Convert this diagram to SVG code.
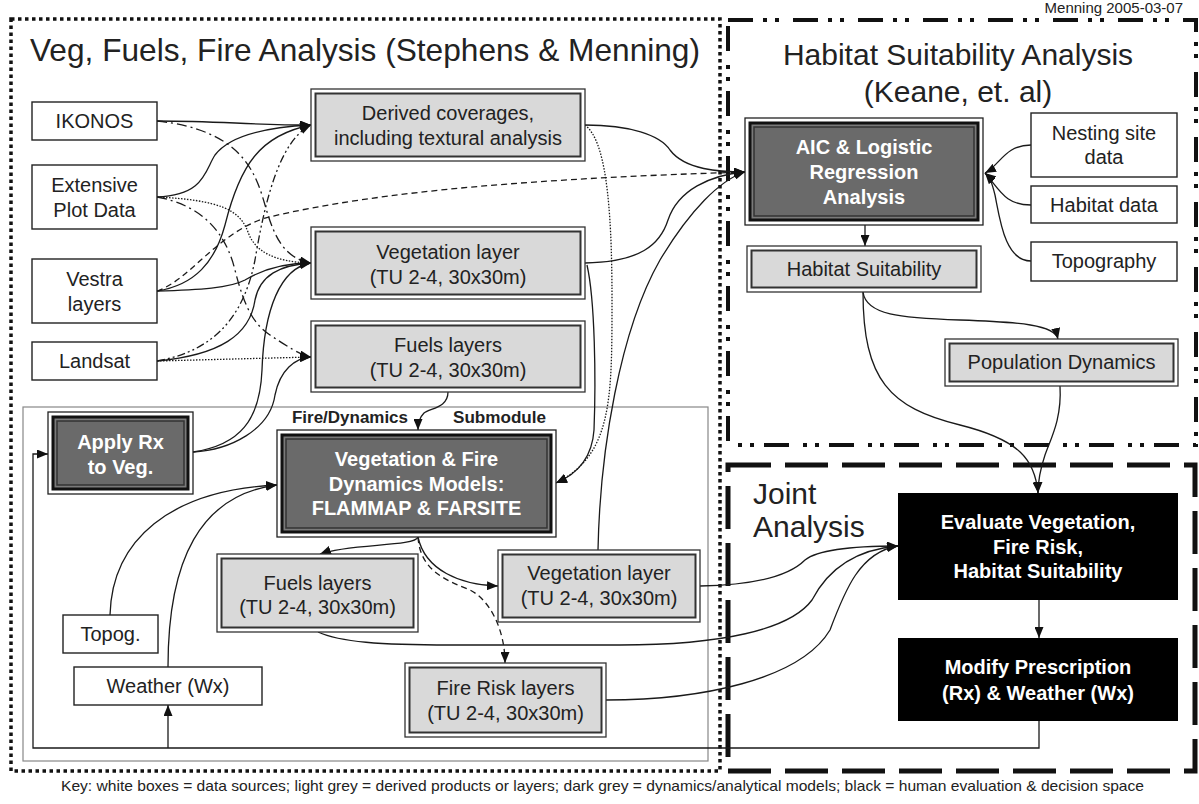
<svg xmlns="http://www.w3.org/2000/svg" width="1199" height="804" viewBox="0 0 1199 804">
<style>
text{font-family:"Liberation Sans",Arial,sans-serif;fill:#222}
.t20{font-size:20px}
.b20{font-size:20px;font-weight:bold;fill:#fff}
.ctr{text-anchor:middle}
.wbox{fill:#fff;stroke:#222;stroke-width:1.4}
.gout{fill:#fff;stroke:#333;stroke-width:1.3}
.gin{fill:#d9d9d9;stroke:#333;stroke-width:2}
.dout{fill:#fff;stroke:#222;stroke-width:1.3}
.dmid{fill:#7a7a7a;stroke:#111;stroke-width:3}
.din{fill:#6a6a6a;stroke:#333;stroke-width:1.5}
.blk{fill:#000}
.c{fill:none;stroke:#1a1a1a;stroke-width:1.3}
.ca{marker-end:url(#ah)}
.dash{stroke-dasharray:6 4}
.dot{stroke-dasharray:1.5 1.5}
.dd{stroke-dasharray:10 4 2 4}
.ddd{stroke-dasharray:8 3 2 3 2 3}
</style>
<defs>
<marker id="ah" markerUnits="userSpaceOnUse" markerWidth="11" markerHeight="9" refX="11" refY="4.5" orient="auto">
<path d="M0,0 L11,4.5 L0,9 z" fill="#111"/>
</marker>
</defs>
<rect width="1199" height="804" fill="#fff"/>

<g id="containers">
<rect x="23" y="407" width="685" height="354" fill="none" stroke="#888" stroke-width="1.2"/>
<rect x="11" y="19" width="709" height="752" fill="none" stroke="#111" stroke-width="3.5" stroke-dasharray="3.5 3.5"/>
<rect x="728" y="20" width="468" height="425" fill="none" stroke="#111" stroke-width="4" stroke-dasharray="25 10 4 8 4 14"/>
<rect x="728" y="465" width="467" height="306" fill="none" stroke="#111" stroke-width="5" stroke-dasharray="43 14"/>
</g>

<g id="titles">
<text x="30" y="61" font-size="31.5" textLength="670" lengthAdjust="spacingAndGlyphs">Veg, Fuels, Fire Analysis (Stephens &amp; Menning)</text>
<text x="958" y="65" font-size="30" class="ctr">Habitat Suitability Analysis</text>
<text x="958" y="102" font-size="30" class="ctr">(Keane, et. al)</text>
<text x="753" y="504" font-size="30">Joint</text>
<text x="753" y="537" font-size="30">Analysis</text>
<text x="1183" y="13" font-size="15" text-anchor="end">Menning 2005-03-07</text>
<text x="292" y="423" font-size="16" font-weight="bold" fill="#000" textLength="116" lengthAdjust="spacingAndGlyphs">Fire/Dynamics</text>
<text x="453" y="423" font-size="16" font-weight="bold" fill="#000" textLength="93" lengthAdjust="spacingAndGlyphs">Submodule</text>
<text x="61" y="791" font-size="14.5" textLength="1083" lengthAdjust="spacingAndGlyphs">Key: white boxes = data sources; light grey = derived products or layers; dark grey = dynamics/analytical models; black = human evaluation &amp; decision space</text>
</g>

<g id="connectors">
<path class="c ca" d="M157,121 C220,121 250,125 311,125"/>
<path class="c ca dd" d="M157,121 C240,130 255,170 265,205 C275,240 285,258 311,263"/>
<path class="c ca" d="M157,197 C205,195 205,170 215,155 C230,135 270,127 311,125"/>
<path class="c ca dot" d="M157,197 C220,200 240,210 248,232 C255,252 275,262 311,263"/>
<path class="c ca dd" d="M157,197 C200,205 225,230 235,270 C245,310 255,325 270,335 C285,345 300,355 311,357"/>
<path class="c ca" d="M157,291 C195,285 215,262 225,225 C240,165 260,135 311,125"/>
<path class="c ca" d="M157,291 C200,290 230,288 245,280 C265,268 285,263 311,263"/>
<path class="c ca dash" d="M157,291 C190,280 215,235 265,218 C380,190 550,178 745,172"/>
<path class="c ca" d="M157,361 C220,355 250,335 255,300 C260,275 280,265 311,263"/>
<path class="c ca dot" d="M157,361 L311,357"/>
<path class="c ca ddd" d="M157,361 C220,350 245,310 255,260 C265,200 280,140 311,125"/>
<path class="c ca" d="M193,452 C240,445 260,420 262,370 C264,310 280,268 311,263"/>
<path class="c ca" d="M193,452 C230,450 270,430 275,395 C280,370 295,358 311,357"/>
<path class="c ca" d="M585,125 C630,125 660,135 670,150 C685,170 720,172 745,172"/>
<path class="c ca" d="M585,263 C640,262 660,245 668,220 C678,190 710,175 745,172"/>
<path class="c ca" d="M598,550 C600,450 620,330 660,260 C690,210 720,180 745,172"/>
<path class="c ca dot" d="M585,125 C605,140 612,200 612,300 C612,400 612,455 556,483"/>
<path class="c ca" d="M587,265 C595,300 596,380 594,430 C592,460 575,475 556,483"/>
<path class="c ca" d="M448,392 C448,408 430,408 424,413 C419,418 418,423 418,430"/>
<path class="c ca" d="M418,537 C415,547 350,543 320,554"/>
<path class="c ca" d="M418,537 C425,570 460,585 498,586"/>
<path class="c ca dash" d="M418,537 C420,570 445,580 470,590 C490,600 505,630 505,663"/>
<path class="c ca" d="M700,586 C760,585 790,575 805,560 C820,548 860,546 898,546"/>
<path class="c ca" d="M318,632 C340,642 380,645 450,645 L620,645 C720,645 790,630 812,600 C825,575 850,550 898,546"/>
<path class="c ca" d="M606,700 C700,700 800,680 830,630 C845,590 860,552 898,546"/>
<path class="c ca" d="M110,615 C112,540 170,490 277,485"/>
<path class="c ca" d="M168,667 C168,560 200,495 277,485"/>
<path class="c ca" d="M863,292 C866,315 900,318 960,320 C1020,322 1055,325 1058,339"/>
<path class="c ca" d="M863,292 C863,380 890,408 960,425 C1020,440 1035,460 1038,493"/>
<path class="c ca" d="M1060,386 C1062,420 1050,440 1045,455 C1040,470 1038,480 1038,493"/>
<path class="c ca" d="M1031,145 C1005,145 1000,165 985,173"/>
<path class="c ca" d="M1031,205 C1005,205 1000,190 985,173"/>
<path class="c ca" d="M1031,261 C1005,261 1000,220 995,195 C992,183 990,177 985,173"/>
<path class="c ca" d="M865,225 L865,246"/>
<path class="c ca" d="M1039,600 L1039,638"/>
<path class="c ca" d="M1039,721 L1039,748 L33,748 L33,454 L48,454"/>
<path class="c ca" d="M168,748 L168,705"/>
</g>

<g id="ikonos"><rect class="wbox" x="32" y="102" width="125" height="38"/><text class="t20 ctr" x="94.5" y="128">IKONOS</text></g>
<g id="extensive"><rect class="wbox" x="32" y="165" width="125" height="64"/><text class="t20 ctr" x="94.5" y="192">Extensive</text><text class="t20 ctr" x="94.5" y="217">Plot Data</text></g>
<g id="vestra"><rect class="wbox" x="32" y="259" width="125" height="64"/><text class="t20 ctr" x="94.5" y="286">Vestra</text><text class="t20 ctr" x="94.5" y="311">layers</text></g>
<g id="landsat"><rect class="wbox" x="32" y="342" width="125" height="38"/><text class="t20 ctr" x="94.5" y="368">Landsat</text></g>
<g id="nesting"><rect class="wbox" x="1031" y="113" width="146" height="64"/><text class="t20 ctr" x="1104" y="140">Nesting site</text><text class="t20 ctr" x="1104" y="164">data</text></g>
<g id="habitatdata"><rect class="wbox" x="1031" y="186" width="146" height="37"/><text class="t20 ctr" x="1104" y="212">Habitat data</text></g>
<g id="topography"><rect class="wbox" x="1031" y="242" width="146" height="39"/><text class="t20 ctr" x="1104" y="268">Topography</text></g>
<g id="topog"><rect class="wbox" x="63" y="615" width="95" height="38"/><text class="t20 ctr" x="110.5" y="641">Topog.</text></g>
<g id="weather"><rect class="wbox" x="74" y="667" width="188" height="38"/><text class="t20 ctr" x="168" y="693">Weather (Wx)</text></g>

<g id="derived"><rect class="gout" x="311" y="89" width="274" height="72"/><rect class="gin" x="315.5" y="93.5" width="265" height="63"/><text class="t20 ctr" x="448" y="120">Derived coverages,</text><text class="t20 ctr" x="448" y="145">including textural analysis</text></g>
<g id="veglayer"><rect class="gout" x="311" y="227" width="274" height="72"/><rect class="gin" x="315.5" y="231.5" width="265" height="63"/><text class="t20 ctr" x="448" y="259">Vegetation layer</text><text class="t20 ctr" x="448" y="284">(TU 2-4, 30x30m)</text></g>
<g id="fuelslayers"><rect class="gout" x="311" y="321" width="274" height="71"/><rect class="gin" x="315.5" y="325.5" width="265" height="62"/><text class="t20 ctr" x="448" y="352">Fuels layers</text><text class="t20 ctr" x="448" y="377">(TU 2-4, 30x30m)</text></g>
<g id="habsuit"><rect class="gout" x="747" y="246" width="234" height="46"/><rect class="gin" x="751.5" y="250.5" width="225" height="37"/><text class="t20 ctr" x="864" y="276">Habitat Suitability</text></g>
<g id="popdyn"><rect class="gout" x="945" y="339" width="233" height="47"/><rect class="gin" x="949.5" y="343.5" width="224" height="38"/><text class="t20 ctr" x="1061.5" y="369">Population Dynamics</text></g>
<g id="fuelslower"><rect class="gout" x="217" y="554" width="201" height="78"/><rect class="gin" x="221.5" y="558.5" width="192" height="69"/><text class="t20 ctr" x="317.5" y="590">Fuels layers</text><text class="t20 ctr" x="317.5" y="614">(TU 2-4, 30x30m)</text></g>
<g id="veglower"><rect class="gout" x="498" y="550" width="202" height="72"/><rect class="gin" x="502.5" y="554.5" width="193" height="63"/><text class="t20 ctr" x="599" y="580">Vegetation layer</text><text class="t20 ctr" x="599" y="605">(TU 2-4, 30x30m)</text></g>
<g id="firerisk"><rect class="gout" x="405" y="663" width="201" height="74"/><rect class="gin" x="409.5" y="667.5" width="192" height="65"/><text class="t20 ctr" x="505.5" y="695">Fire Risk layers</text><text class="t20 ctr" x="505.5" y="720">(TU 2-4, 30x30m)</text></g>

<g id="applyrx"><rect class="dout" x="48" y="412" width="145" height="82"/><rect class="dmid" x="53" y="417" width="135" height="72"/><rect class="din" x="57" y="421" width="127" height="64"/><text class="b20 ctr" x="120.5" y="449">Apply Rx</text><text class="b20 ctr" x="120.5" y="474">to Veg.</text></g>
<g id="models"><rect class="dout" x="277" y="430" width="279" height="107"/><rect class="dmid" x="282" y="435" width="269" height="97"/><rect class="din" x="286" y="439" width="261" height="89"/><text class="b20 ctr" x="416.5" y="466">Vegetation &amp; Fire</text><text class="b20 ctr" x="416.5" y="491">Dynamics Models:</text><text class="b20 ctr" x="416.5" y="515">FLAMMAP &amp; FARSITE</text></g>
<g id="aic"><rect class="dout" x="745" y="118" width="238" height="107"/><rect class="dmid" x="750" y="123" width="228" height="97"/><rect class="din" x="754" y="127" width="220" height="89"/><text class="b20 ctr" x="864" y="154">AIC &amp; Logistic</text><text class="b20 ctr" x="864" y="179">Regression</text><text class="b20 ctr" x="864" y="204">Analysis</text></g>

<g id="evaluate"><rect class="blk" x="898" y="493" width="280" height="107"/><text class="b20 ctr" x="1038" y="529">Evaluate Vegetation,</text><text class="b20 ctr" x="1038" y="554">Fire Risk,</text><text class="b20 ctr" x="1038" y="578">Habitat Suitability</text></g>
<g id="modify"><rect class="blk" x="898" y="638" width="280" height="83"/><text class="b20 ctr" x="1038" y="674">Modify Prescription</text><text class="b20 ctr" x="1038" y="700">(Rx) &amp; Weather (Wx)</text></g>
</svg>
